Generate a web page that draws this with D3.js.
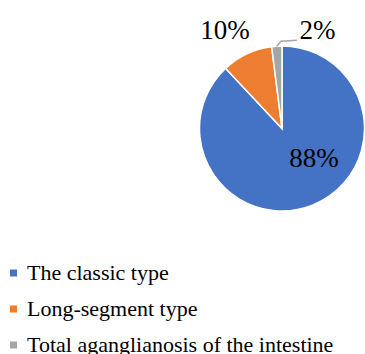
<!DOCTYPE html>
<html><head><meta charset="utf-8">
<script src="https://cdn.jsdelivr.net/npm/d3@7"></script>
<style>html,body{margin:0;padding:0;background:#fff}</style>
</head><body>
<svg id="c" width="365" height="354"></svg>
<script>
const categories = ["The classic type", "Long-segment type", "Total aganglianosis of the intestine"];
const values = [88, 10, 2];
const labels = ["88%", "10%", "2%"];
const colors = ["#4472C4", "#ED7D31", "#A5A5A5"];

const svg = d3.select("#c");
const cx = 282, cy = 128.5, r = 82.5;
const FONT = '"Liberation Serif"';
const g = svg.append("g").attr("transform", `translate(${cx},${cy})`);
const pie = d3.pie().sort(null).value(d => d);
const arcs = pie(values);
const arc = d3.arc().innerRadius(0).outerRadius(r);
g.selectAll("path").data(arcs).enter().append("path")
  .attr("d", arc).attr("fill", (d, i) => colors[i])
  .attr("stroke", "#fff").attr("stroke-width", 1.5);

// labels
const labelPos = [[32, 38.5], [-57, -89.5], [35.5, -89.5]];
g.selectAll("text.lbl").data(arcs).enter().append("text")
  .attr("x", (d, i) => labelPos[i][0]).attr("y", (d, i) => labelPos[i][1])
  .attr("text-anchor", "middle")
  .style("font-family", FONT).style("font-size", "27px")
  .attr("fill", "#000").text((d, i) => labels[i]);

// leader line for small slice
const a2 = arcs[2];
const mid = (a2.startAngle + a2.endAngle) / 2;
const p0 = [Math.sin(mid) * r, -Math.cos(mid) * r];
g.append("path")
  .attr("d", `M${p0[0]},${p0[1]} L${p0[0] + 4},${p0[1] - 5} L${p0[0] + 20},${p0[1] - 6}`)
  .attr("fill", "none").attr("stroke", "#A5A5A5").attr("stroke-width", 1.5);

// legend
const leg = svg.append("g");
const rows = leg.selectAll("g").data(categories).enter().append("g")
  .attr("transform", (d, i) => `translate(10,${279.5 + i * 36})`);
rows.append("rect").attr("x", 0).attr("y", -10).attr("width", 7).attr("height", 7)
  .attr("fill", (d, i) => colors[i]);
rows.append("text").attr("x", 17).attr("y", 0)
  .style("font-family", FONT).style("font-size", "22px").attr("fill", "#000")
  .text(d => d);
</script>
</body></html>
